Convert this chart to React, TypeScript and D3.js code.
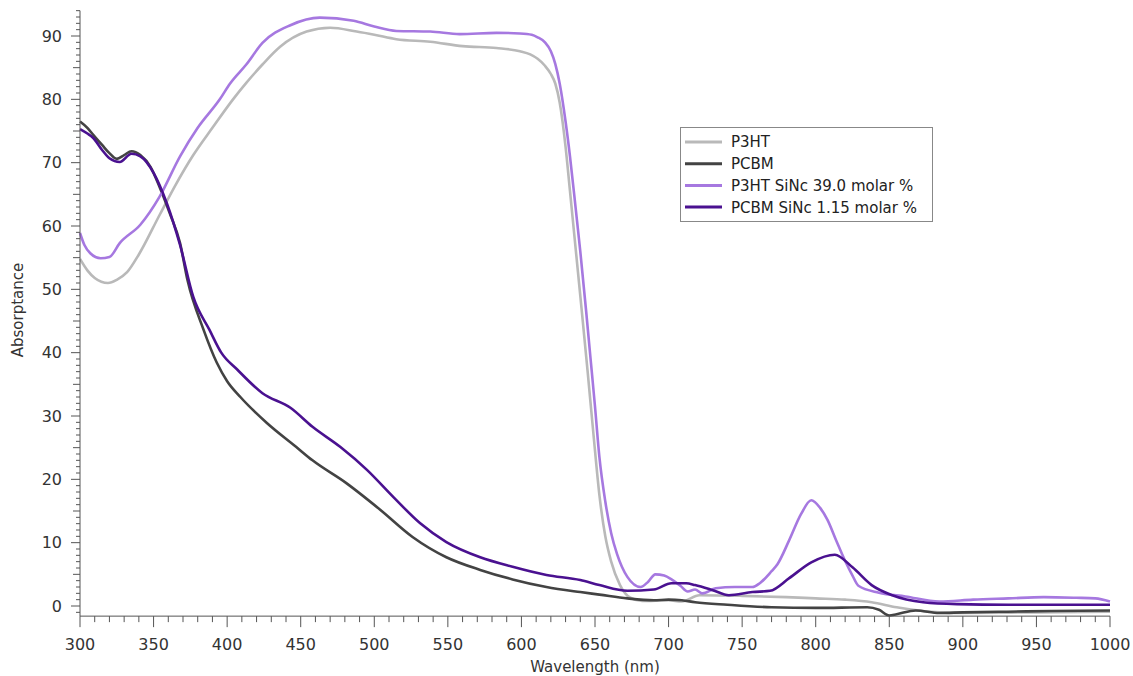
import React from "react";
import * as d3 from "d3";

const p3htWl = [300,305,310,319,325,332,340,354,365,377,390,404,413,424,436,454,470,488,500,515,538,560,583,599,606,611,616,620,623,626,630,633,640,645,649,653,657,661,667,674,682,700,709,721,750,780,800,820,838,855,870,884,900,950,1000];
const p3htAbs = [54.8,53,51.8,51,51.5,52.7,55.5,61.7,66.5,71.2,75.5,80,82.6,85.5,88.3,90.7,91.3,90.7,90.2,89.5,89.1,88.4,88.1,87.6,87.1,86.4,85.3,84,82.5,79.5,72.5,65.5,49,37,27,17.5,11,7,3.3,1.3,0.8,0.9,0.7,1.7,1.6,1.4,1.2,1.0,0.6,-0.2,-0.7,-1.0,-1.1,-1.0,-0.9];

const pcbmWl = [300,305,309,315,320,325,330,335,341,348,354,361,368,373,384,393,400,409,427,447,458,481,504,526,549,572,594,617,640,653,672,690,700,709,718,740,770,800,835,843,850,855,868,884,900,930,960,1000];
const pcbmAbs = [76.5,75.5,74.4,72.8,71.5,70.6,71.2,71.8,71.2,69.3,66.2,62,57.3,51.5,43.6,38.4,35.5,33,28.9,25.1,23,19.4,15.2,10.9,7.7,5.7,4.2,3.0,2.2,1.8,1.2,0.9,1.0,0.9,0.6,0.2,-0.2,-0.3,-0.2,-0.6,-1.5,-1.3,-0.7,-1.1,-1.0,-0.9,-0.8,-0.7];

const p3htSincWl = [300,303,307,314,320,327,341,354,368,380,395,402,413,424,443,463,486,500,515,538,558,583,599,607,611,616,620,623,626,630,633,637,640,644,647,650,653,657,661,665,672,681,686,691,697,702,708,713,718,723,732,745,757,762,770,774,782,790,797,803,808,814,820,825,829,843,861,884,907,931,955,977,990,1000];
const p3htSincAbs = [58.9,57,55.7,54.9,55.1,57.3,60.2,64.6,71,75.5,80,82.5,85.5,88.9,91.7,92.9,92.4,91.5,90.8,90.7,90.3,90.5,90.4,90.2,89.8,89,87.6,85.6,82.5,76.5,71,62.5,56,46.5,39,31.5,23.5,16.5,11.5,8.2,4.6,3.0,3.8,5.0,4.8,4.2,3.2,2.3,2.6,2.0,2.8,3.0,3.0,3.6,5.5,6.6,10.4,14.5,16.7,15.5,13.6,10.3,7.1,4.8,3.2,2.1,1.5,0.7,1.0,1.2,1.4,1.3,1.2,0.7];

const pcbmSincWl = [300,305,309,315,320,327,335,341,350,359,368,377,388,396,407,424,443,458,477,495,513,531,549,572,594,617,640,653,672,690,702,712,718,730,741,757,769,782,797,813,825,838,852,873,896,931,1000];
const pcbmSincAbs = [75.3,74.6,73.9,72,70.7,70.1,71.4,71,68.4,63.6,57,48.8,43.6,40,37.3,33.6,31.3,28.3,25.1,21.5,17.2,13.1,10.1,7.7,6.2,4.9,4.1,3.3,2.4,2.6,3.6,3.6,3.3,2.5,1.7,2.2,2.4,4.4,6.9,8.1,6.1,3.3,1.7,0.6,0.3,0.2,0.2];

const seriesNames = ["P3HT", "PCBM", "P3HT SiNc 39.0 molar %", "PCBM SiNc 1.15 molar %"];
const seriesColors = ["#b9b9b9", "#434343", "#a678e0", "#4a1190"];
const xTickValues = [300,350,400,450,500,550,600,650,700,750,800,850,900,950,1000];
const yTickValues = [0,10,20,30,40,50,60,70,80,90];

const W = 1133, H = 676;
const FONT = "'DejaVu Sans', Verdana, sans-serif";

export default function App() {
  const x = d3.scaleLinear().domain([300, 1000]).range([80, 1110]);
  const y = d3.scaleLinear().domain([0, 90]).range([606, 36]);
  const axisY = y(-1.6);
  const axisTop = y(94);

  const series = [
    { wl: p3htWl, v: p3htAbs },
    { wl: pcbmWl, v: pcbmAbs },
    { wl: p3htSincWl, v: p3htSincAbs },
    { wl: pcbmSincWl, v: pcbmSincAbs },
  ];
  const line = d3.line<[number, number]>()
    .x(d => x(d[0]))
    .y(d => y(d[1]))
    .curve(d3.curveMonotoneX);

  const xMinor = d3.range(300, 1001, 10);
  const yMinor = d3.range(-1, 95, 1);

  return (
    <svg width={W} height={H} style={{ position: "absolute", left: 0, top: 0, background: "#fff" }}>
      <rect x={0} y={0} width={W} height={H} fill="#fff" />
      {series.map((s, i) => (
        <path key={i} d={line(s.wl.map((w, j) => [w, s.v[j]] as [number, number])) || ""}
          fill="none" stroke={seriesColors[i]} strokeWidth={2.6} strokeLinejoin="round" />
      ))}
      <line x1={x(300)} x2={x(1000)} y1={axisY} y2={axisY} stroke="#555" strokeWidth={1} />
      <line x1={x(300)} x2={x(300)} y1={axisTop} y2={axisY} stroke="#555" strokeWidth={1} />
      {xMinor.map(v => {
        const major = v % 50 === 0;
        return <line key={"xt" + v} x1={x(v)} x2={x(v)} y1={axisY} y2={axisY + (major ? 11 : 6)} stroke="#555" strokeWidth={1} />;
      })}
      {xTickValues.map(v => (
        <text key={"xl" + v} x={x(v)} y={axisY + 34} textAnchor="middle" fontFamily={FONT} fontSize={16} fill="#333">{v}</text>
      ))}
      {yMinor.map(v => {
        const len = v % 10 === 0 ? 9 : v % 5 === 0 ? 7 : 4;
        return <line key={"yt" + v} x1={x(300) - len} x2={x(300)} y1={y(v)} y2={y(v)} stroke="#555" strokeWidth={1} />;
      })}
      {yTickValues.map(v => (
        <text key={"yl" + v} x={x(300) - 18} y={y(v)} dy="0.36em" textAnchor="end" fontFamily={FONT} fontSize={16} fill="#333">{v}</text>
      ))}
      <text x={595} y={672} textAnchor="middle" fontFamily={FONT} fontSize={15} fill="#333">Wavelength (nm)</text>
      <text transform={`translate(23,310) rotate(-90)`} textAnchor="middle" fontFamily={FONT} fontSize={15} fill="#333">Absorptance</text>
      <rect x={680.5} y={127.5} width={252} height={94} fill="#fff" stroke="#888" strokeWidth={1} />
      {seriesNames.map((n, i) => {
        const ly = 142 + i * 21.7;
        return (
          <g key={n}>
            <line x1={685} x2={722} y1={ly} y2={ly} stroke={seriesColors[i]} strokeWidth={3} />
            <text x={731} y={ly} dy="0.36em" fontFamily={FONT} fontSize={15} fill="#222">{n}</text>
          </g>
        );
      })}
    </svg>
  );
}
